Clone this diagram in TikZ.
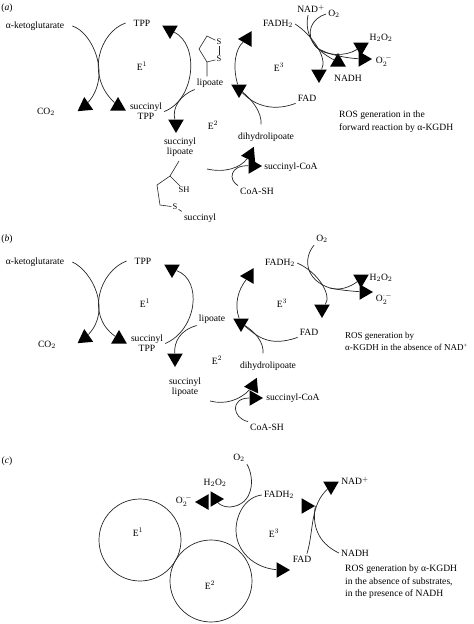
\documentclass[tikz,border=0pt]{standalone}
\usepackage{fontspec}
\setmainfont{Liberation Serif}
\usetikzlibrary{shapes.geometric, positioning}
\tikzset{
  lbl/.style={inner sep=2pt, font=\fontsize{9.6}{11}\selectfont, align=center},
  note/.style={inner sep=0pt, anchor=west, align=left, font=\fontsize{9.6}{12.5}\selectfont},
  atom/.style={inner sep=1pt, font=\fontsize{8.5}{10}\selectfont},
  tri/.style={regular polygon, regular polygon sides=3, fill=black, inner sep=0pt, minimum size=18pt},
  arc/.style={line width=0.7pt, draw=black!85},
  bond/.style={line width=0.6pt, draw=black!85},
  enz/.style={circle, draw=black!85, line width=0.7pt, minimum size=82pt, inner sep=0pt}
}
\begin{document}
\begin{tikzpicture}[x=1pt, y=-1pt]
  \useasboundingbox (0,0) rectangle (474,624);

  % Panel a: labels
  \node[lbl] (pa) at (7,8) {(\textit{a})};
  \node[lbl] (akga) at (35,26) {α-ketoglutarate};
  \node[lbl] (tppa) at (142,23) {TPP};
  \node[lbl] (e1a) at (142,66) {E$^1$};
  \node[lbl] (co2a) at (46,112) {CO$_2$};
  \node[lbl] (sta) at (146,111.5) {succinyl\\[-1pt]TPP};
  \node[lbl] (lipa) at (210,83) {lipoate};
  \node[lbl] (e2a) at (213,125) {E$^2$};
  \node[lbl] (sla) at (180,147.5) {succinyl\\[-1pt]lipoate};
  \node[lbl] (dhla) at (266,137) {dihydrolipoate};
  \node[lbl] (scoaa) at (291,167) {succinyl-CoA};
  \node[lbl] (coaa) at (257,191) {CoA-SH};
  \node[lbl] (fada) at (307,98) {FAD};
  \node[lbl] (e3a) at (279,67) {E$^3$};
  \node[lbl] (fadha) at (278,24) {FADH$_2$};
  \node[lbl] (nada) at (311,9) {NAD$^+$};
  \node[lbl] (oa) at (334,14) {O$_2$};
  \node[lbl] (hoa) at (381,38) {H$_2$O$_2$};
  \node[lbl] (supa) at (384,61) {O$_2^{\cdot-}$};
  \node[lbl] (nadha) at (348,78) {NADH};
  \node[note] (rosa) at (339,121.5) {ROS generation in the\\forward reaction by α-KGDH};

  % Panel a: structures
  \node[atom] (s1a) at (219,42) {S};
  \node[atom] (s2a) at (219,59) {S};
  \draw[bond] (lipa.north) ++(-3,0) -- (207,62) -- (199,49) -- (207,36) -- (s1a);
  \draw[bond] (s1a) -- (s2a);
  \draw[bond] (s2a) -- (207,62);
  \node[atom] (sha) at (184,190) {SH};
  \node[atom] (sb) at (175,207) {S};
  \node[lbl] (sucb) at (200,218) {succinyl};
  \draw[bond] (179,161) -- (170,176) -- (157,185) -- (160,205) -- (sb);
  \draw[bond] (170,176) -- (sha);
  \draw[bond] (sb) -- (sucb.north west);

  % Panel a: arrowheads
  \node[tri, rotate=5] (a1) at (85,106) {};
  \node[tri] (a2) at (118,106) {};
  \node[tri, rotate=180] (a3) at (170,30) {};
  \node[tri, rotate=180] (a4) at (176,124) {};
  \node[tri, rotate=95] (a5) at (250,155) {};
  \node[tri, rotate=-90] (a6) at (253,166) {};
  \node[tri, rotate=180] (a7) at (239,89) {};
  \node[tri, rotate=90] (a8) at (247,39) {};
  \node[tri, rotate=180] (a9) at (319,74) {};
  \node[tri] (a10) at (338,62) {};
  \node[tri, rotate=180] (a11) at (361,47) {};
  \node[tri, rotate=-90] (a12) at (363,59) {};

  % Panel a: arcs
  \coordinate (e2sa) at (207,169);
  \coordinate (oja) at (316,47);
  \draw[arc] ([xshift=6pt]akga.east) .. controls (92,32) and (112,75) .. (a1);
  \draw[arc] ([xshift=-6pt]tppa.west) .. controls (100,32) and (85,75) .. (a2);
  \draw[arc] (sta.east) .. controls (195,100) and (200,45) .. (a3);
  \draw[arc] (lipa.south west) .. controls (180,95) and (172,108) .. (a4);
  \draw[arc] (e2sa) .. controls (225,173) and (240,168) .. (a5);
  \draw[arc] (coaa.north west) .. controls (228,180) and (230,165) .. (a6);
  \draw[arc] (fada.south west) .. controls (270,113) and (252,103) .. (a7);
  \draw[arc] ([shift={(-5pt,6pt)}]dhla.north) .. controls (262,112) and (252,100) .. (a7);
  \draw[arc] (a7) .. controls (232,65) and (236,48) .. (a8);
  \draw[arc] (fadha.east) .. controls (312,35) and (328,58) .. (a9);
  \draw[arc] (nada.south) ++(-3,0) .. controls (304,35) and (315,50) .. (a10);
  \draw[arc] (oa.west) .. controls (312,18) and (304,33) .. (oja) .. controls (325,56) and (345,57) .. (a11);
  \draw[arc] (oja) .. controls (325,54) and (345,58) .. (a12);

  % Panel b: labels
  \node[lbl] (pb) at (7,239) {(\textit{b})};
  \node[lbl] (akgb) at (35,262) {α-ketoglutarate};
  \node[lbl] (tppb) at (143,261) {TPP};
  \node[lbl] (e1b) at (145,303) {E$^1$};
  \node[lbl] (co2b) at (47,345) {CO$_2$};
  \node[lbl] (stb) at (147,343.5) {succinyl\\[-1pt]TPP};
  \node[lbl] (lipb) at (212,319) {lipoate};
  \node[lbl] (e2b) at (217,360) {E$^2$};
  \node[lbl] (slb) at (185,387.5) {succinyl\\[-1pt]lipoate};
  \node[lbl] (dhlb) at (268,366) {dihydrolipoate};
  \node[lbl] (scoab) at (293,398) {succinyl-CoA};
  \node[lbl] (coab) at (267,427) {CoA-SH};
  \node[lbl] (fadb) at (309,332) {FAD};
  \node[lbl] (e3b) at (282,303) {E$^3$};
  \node[lbl] (fadhb) at (280,263) {FADH$_2$};
  \node[lbl] (ob) at (322,239) {O$_2$};
  \node[lbl] (hob) at (381,278) {H$_2$O$_2$};
  \node[lbl] (supb) at (384,299) {O$_2^{\cdot-}$};
  \node[note, font=\fontsize{9}{12.5}\selectfont] (rosb) at (345,341.5) {ROS generation by\\α-KGDH in the absence of NAD\textsuperscript{+}};

  % Panel b: arrowheads
  \node[tri, rotate=5] (b1) at (85,338) {};
  \node[tri] (b2) at (119,339) {};
  \node[tri, rotate=180] (b3) at (172,269) {};
  \node[tri, rotate=180] (b4) at (175,358) {};
  \node[tri, rotate=95] (b5) at (253,386) {};
  \node[tri, rotate=-90] (b6) at (254,398) {};
  \node[tri, rotate=180] (b7) at (241,323) {};
  \node[tri, rotate=90] (b8) at (249,276) {};
  \node[tri, rotate=180] (b9) at (322,309) {};
  \node[tri, rotate=180] (b10) at (361,279) {};
  \node[tri, rotate=-90] (b11) at (364,292) {};

  % Panel b: arcs
  \coordinate (e2sb) at (210,401);
  \coordinate (ojb) at (330,288);
  \draw[arc] ([xshift=6pt]akgb.east) .. controls (92,271) and (112,310) .. (b1);
  \draw[arc] ([xshift=-6pt]tppb.west) .. controls (100,271) and (85,315) .. (b2);
  \draw[arc] (stb.east) .. controls (197,330) and (203,280) .. (b3);
  \draw[arc] (lipb.south west) .. controls (180,330) and (174,342) .. (b4);
  \draw[arc] (e2sb) .. controls (225,405) and (240,400) .. (b5);
  \draw[arc] (coab.north west) .. controls (232,418) and (230,398) .. (b6);
  \draw[arc] (fadb.south west) .. controls (268,348) and (256,335) .. (b7);
  \draw[arc] ([shift={(-5pt,6pt)}]dhlb.north) .. controls (264,342) and (255,332) .. (b7);
  \draw[arc] (b7) .. controls (234,305) and (238,290) .. (b8);
  \draw[arc] (fadhb.east) .. controls (318,272) and (332,295) .. (b9);
  \draw[arc] (ob.south west) .. controls (303,258) and (305,280) .. (ojb) .. controls (340,291) and (350,287) .. (b10);
  \draw[arc] (ojb) .. controls (340,290) and (350,291) .. (b11);

  % Panel c: labels
  \node[lbl] (pc) at (7,461) {(\textit{c})};
  \node[enz] (e1c) at (140,540) {};
  \node[enz] (e2c) at (211,581) {};
  \node[lbl] at (138,532) {E$^1$};
  \node[lbl] at (210,585) {E$^2$};
  \node[lbl] (e3c) at (274,533) {E$^3$};
  \node[lbl] (fadhc) at (279,495) {FADH$_2$};
  \node[lbl] (fadc) at (302,559) {FAD};
  \node[lbl] (nadc) at (355,481) {NAD$^+$};
  \node[lbl] (nadhc) at (355,553) {NADH};
  \node[lbl] (oc) at (239,458) {O$_2$};
  \node[lbl] (hoc) at (215,483) {H$_2$O$_2$};
  \node[lbl] (supc) at (184,501) {O$_2^{\cdot-}$};
  \node[note] (rosc) at (345,582) {ROS generation by α-KGDH\\in the absence of substrates,\\in the presence of NADH};

  % Panel c: arrowheads
  \node[tri, rotate=-90] (c1) at (281,570) {};
  \node[tri, rotate=180] (c2) at (331,486) {};
  \node[tri, rotate=-90] (c3) at (306,506) {};
  \node[tri, rotate=-90] (c4) at (215,499) {};
  \node[tri, rotate=90] (c5) at (204,502) {};

  % Panel c: arcs
  \draw[arc] (fadhc.west) .. controls (245,497) and (236,515) .. (236,530) .. controls (236,552) and (255,568) .. (c1);
  \draw[arc] (oc.south east) .. controls (255,478) and (254,505) .. (230,507) .. controls (224,507) and (220,505) .. (c4);
  \draw[arc] ([xshift=5pt]fadc.north) .. controls (314,530) and (310,505) .. (c2);
  \draw[arc] (nadhc.west) .. controls (322,545) and (311,530) .. (c3.corner 1);
\end{tikzpicture}
\end{document}
